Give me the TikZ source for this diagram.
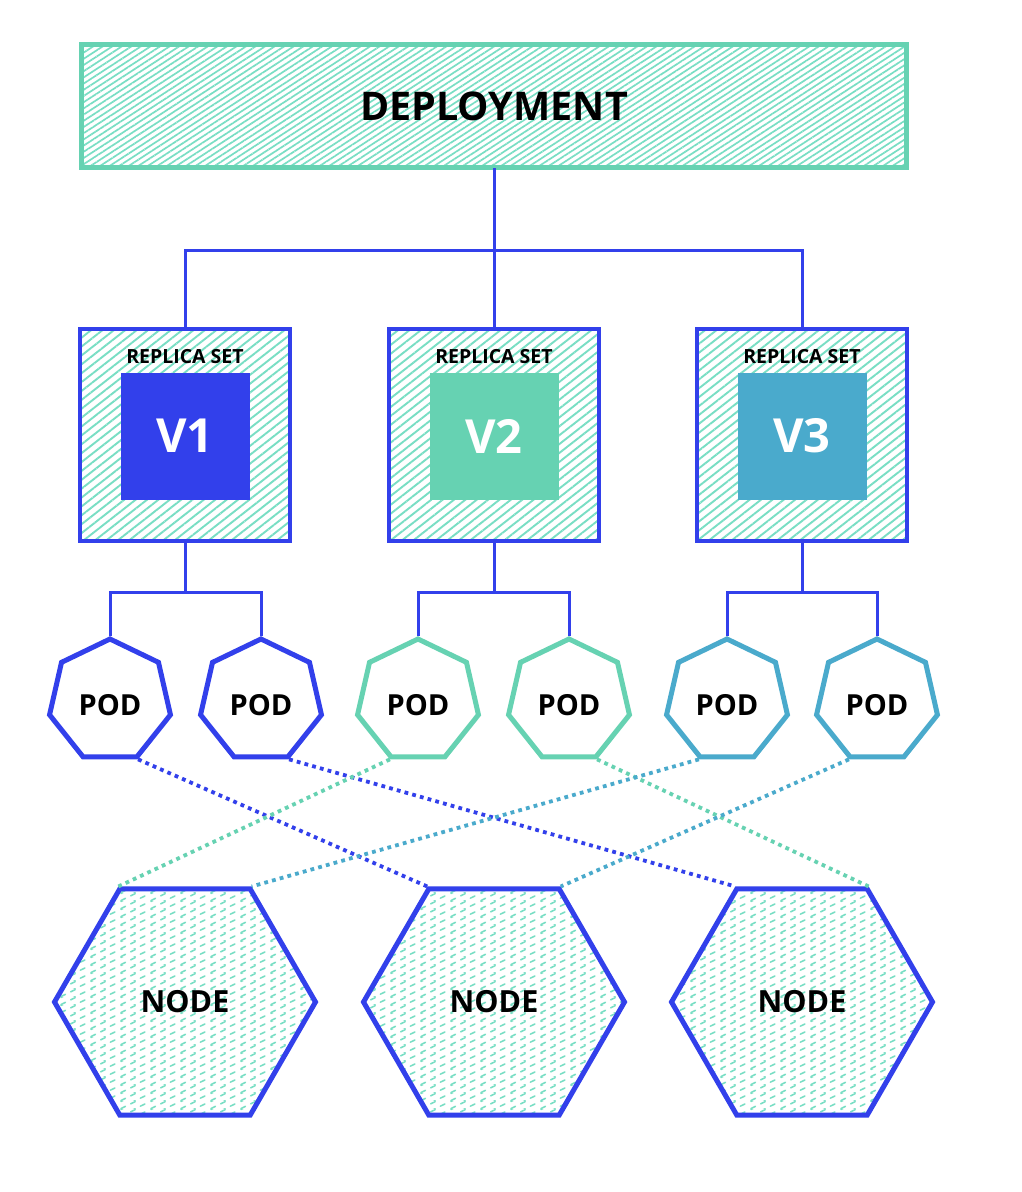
\documentclass[tikz,border=0pt]{standalone}
\usepackage{fontspec}
\setmainfont{Open Sans}
\usetikzlibrary{shapes.geometric,patterns,patterns.meta,calc}
\definecolor{kblue}{RGB}{50,64,235}
\definecolor{kgreen}{RGB}{102,210,178}
\definecolor{kteal}{RGB}{74,170,204}
\definecolor{khatch}{RGB}{120,222,196}

\pgfdeclarepatternformonly{nodedash}{\pgfpointorigin}{\pgfpoint{30pt}{7.5pt}}{\pgfpoint{30pt}{7.5pt}}{%
  \pgfsetlinewidth{1.6pt}%
  \pgfsetroundcap
  \foreach \x/\y in {1/0.5, 1/8, 11/5.5, 11/-2, 21/3} {%
    \pgfpathmoveto{\pgfpoint{\x pt}{\y pt}}%
    \pgfpathlineto{\pgfpoint{\x pt+4.6pt}{\y pt+2.3pt}}%
    \pgfusepath{stroke}%
  }%
}

\tikzset{
  conn/.style={draw=kblue, line width=3pt},
  depbox/.style={draw=kgreen, line width=5pt,
    pattern={Lines[angle=33,distance=5.2pt,line width=1.7pt]}, pattern color=khatch,
    minimum width=825pt, minimum height=123pt, inner sep=0pt,
    font=\bfseries\fontsize{39.5}{39.5}\selectfont},
  rsbox/.style={draw=kblue, line width=4.5pt,
    pattern={Lines[angle=38,distance=7pt,line width=1.9pt]}, pattern color=khatch,
    minimum width=210pt, minimum height=212pt, inner sep=0pt},
  verbox/.style={fill=#1, minimum width=129pt, minimum height=127pt, inner sep=0pt,
    text=white, font=\bfseries\fontsize{47}{47}\selectfont},
  rslabel/.style={inner sep=0pt, font=\bfseries\fontsize{19.5}{19.5}\selectfont},
  podshape/.style={regular polygon, regular polygon sides=7, minimum size=124pt,
    inner sep=0pt, line width=5pt, draw=#1, fill=white,
    text height=29pt, text depth=0pt,
    font=\bfseries\fontsize{29}{29}\selectfont},
  knode/.style={regular polygon, regular polygon sides=6, minimum size=261pt,
    inner sep=0pt, line width=5pt, draw=kblue, pattern=nodedash, pattern color=khatch,
    font=\bfseries\fontsize{30.5}{30.5}\selectfont},
  dots/.style={draw=#1, line width=3.8pt, dash pattern=on 3.8pt off 4.2pt},
}

\begin{document}
\begin{tikzpicture}[x=1pt,y=-1pt]
\useasboundingbox (0,0) rectangle (1021,1192);
\fill[white] (0,0) rectangle (1021,1192);

% deployment
\node[depbox] (dep) at (494,106) {DEPLOYMENT};

% replica sets
\node[rsbox] (rs1) at (185,435) {};
\node[rsbox] (rs2) at (494,435) {};
\node[rsbox] (rs3) at (802,435) {};
\node[rslabel] (l1) at (185,357) {REPLICA SET};
\node[rslabel] (l2) at (494,357) {REPLICA SET};
\node[rslabel] (l3) at (802,357) {REPLICA SET};
\node[verbox=kblue]  (v1) at (185,436) {V1};
\node[verbox=kgreen] (v2) at (494,436) {V2};
\node[verbox=kteal]  (v3) at (802,436) {V3};

% tree from deployment
\coordinate (bar) at (494,250);
\draw[conn] (dep.south) -- (rs2.north);
\draw[conn] (rs1.north) |- (bar) -| (rs3.north);

% pods
\node[podshape=kblue]  (p1) at (110,701) {POD};
\node[podshape=kblue]  (p2) at (261,701) {POD};
\node[podshape=kgreen] (p3) at (418,701) {POD};
\node[podshape=kgreen] (p4) at (569,701) {POD};
\node[podshape=kteal]  (p5) at (727,701) {POD};
\node[podshape=kteal]  (p6) at (877,701) {POD};

\coordinate (b1) at (185,592);
\coordinate (b2) at (494,592);
\coordinate (b3) at (802,592);
\draw[conn] (rs1.south) -- (b1);
\draw[conn] (rs2.south) -- (b2);
\draw[conn] (rs3.south) -- (b3);
\draw[conn] (p1.corner 1) |- (b1) -| (p2.corner 1);
\draw[conn] (p3.corner 1) |- (b2) -| (p4.corner 1);
\draw[conn] (p5.corner 1) |- (b3) -| (p6.corner 1);

% nodes
\node[knode] (n1) at (185,1002) {NODE};
\node[knode] (n2) at (494,1002) {NODE};
\node[knode] (n3) at (802,1002) {NODE};

% scheduling lines
\draw[dots=kblue]  (p1.corner 5) -- (n2.corner 2);
\draw[dots=kblue]  (p2.corner 5) -- (n3.corner 2);
\draw[dots=kgreen] (p3.corner 4) -- (n1.corner 2);
\draw[dots=kgreen] (p4.corner 5) -- (n3.corner 1);
\draw[dots=kteal]  (p5.corner 4) -- (n1.corner 1);
\draw[dots=kteal]  (p6.corner 4) -- (n2.corner 1);
\end{tikzpicture}
\end{document}
